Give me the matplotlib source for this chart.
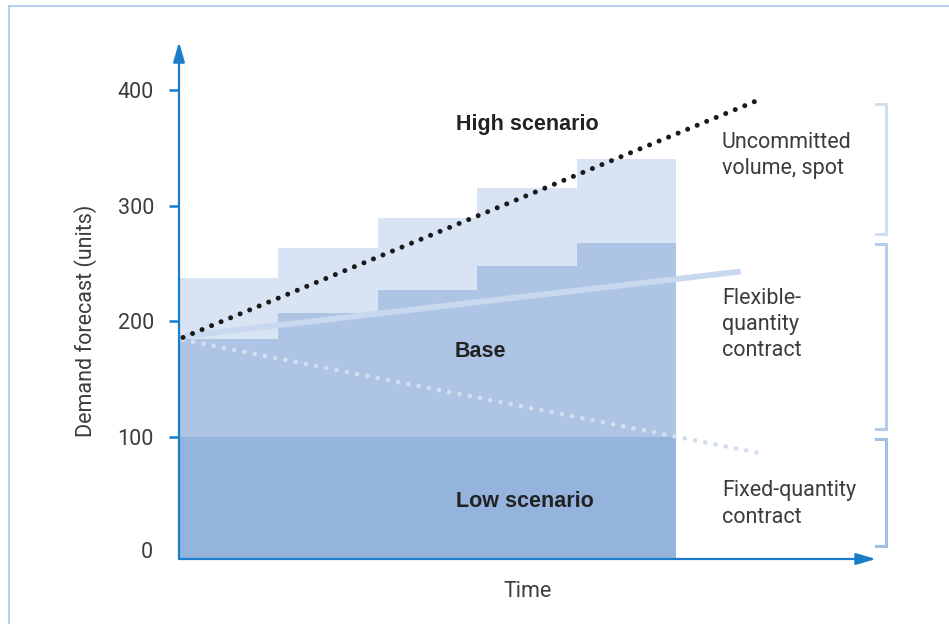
import matplotlib
matplotlib.use("Agg")
import matplotlib.pyplot as plt
import numpy as np

# Demand volumes per planning period (units)
periods = [0, 1, 2, 3, 4]
fixed_qty = [100, 100, 100, 100, 100]
flex_top = [185, 207, 227, 248, 268]
total_top = [237, 263, 289, 315, 340]

# Scenario trend lines: (start x, end x), (start y, end y)
high_x = [0.04, 5.79]
high_y = [186, 390]
base_x = [0.04, 5.65]
base_y = [187, 243]
low_x = [0.04, 5.84]
low_y = [184, 86]

y_ticks = [100, 200, 300, 400]

C_FIXED = "#94b4de"
C_FLEX = "#adc4e5"
C_SPOT = "#d8e3f3"
C_AXIS = "#1b7dc8"
C_TEXT = "#3c3c3c"

LIGHT = dict(family=["Roboto", "DejaVu Sans"], weight="normal")
BOLD = dict(family=["Liberation Sans", "DejaVu Sans"], weight="bold")

fig = plt.figure(figsize=(9.49, 6.24), dpi=100)
W, H = 949, 624
ax = fig.add_axes([179 / W, (H - 559) / H, (876 - 179) / W, (559 - 42) / H])
ax.set_xlim(0, 7.01)
ax.set_ylim(-5.6, 441.5)
y0 = ax.get_ylim()[0]

# Stacked contract volumes
ax.bar(periods, np.array(fixed_qty) - y0, bottom=y0, width=1, align="edge",
       color=C_FIXED, linewidth=0, zorder=1)
ax.bar(periods, np.array(flex_top) - np.array(fixed_qty), bottom=fixed_qty,
       width=1, align="edge", color=C_FLEX, linewidth=0, zorder=1)
ax.bar(periods, np.array(total_top) - np.array(flex_top), bottom=flex_top,
       width=1, align="edge", color=C_SPOT, linewidth=0, zorder=1)

# Scenario lines
ax.plot(base_x, base_y, color="#c8d8ef", lw=4.2, solid_capstyle="butt", zorder=2)
ax.plot(low_x, low_y, color="#d3dff1", lw=3.4, linestyle=(0, (0.01, 2.2)),
        dash_capstyle="round", zorder=3)
ax.plot(high_x, high_y, color="#1a1a1a", lw=3.6, linestyle=(0, (0.01, 2.05)),
        dash_capstyle="round", zorder=4)

# Axes with arrows
for s in ax.spines.values():
    s.set_visible(False)
ax.annotate("", xy=(0, 1), xytext=(0, 0), xycoords="axes fraction",
            arrowprops=dict(arrowstyle="-|>,head_length=1.2,head_width=0.35",
                            color=C_AXIS, lw=1.6, shrinkA=0, shrinkB=0),
            zorder=6)
ax.annotate("", xy=(1, 0), xytext=(0, 0), xycoords="axes fraction",
            arrowprops=dict(arrowstyle="-|>,head_length=1.2,head_width=0.35",
                            color=C_AXIS, lw=1.6, shrinkA=0, shrinkB=0),
            zorder=6)

ax.set_xticks([])
ax.set_yticks(y_ticks)
ax.set_yticklabels([str(v) for v in y_ticks], **LIGHT)
ax.tick_params(axis="y", length=7, width=1.8, color=C_AXIS, pad=11,
               labelsize=15.5, labelcolor=C_TEXT)
ax.text(-0.26, 0, "0", ha="right", va="center", fontsize=15.5, color=C_TEXT, **LIGHT)
ax.set_ylabel("Demand forecast (units)", fontsize=15.5, color=C_TEXT, **LIGHT)
ax.yaxis.set_label_coords(-(179 - 97) / (876 - 179), (559 - 321) / (559 - 42))
ax.set_xlabel("Time", fontsize=15.5, color=C_TEXT, labelpad=16, **LIGHT)

# In-chart labels
ax.text(3.5, 370, "High scenario", ha="center", va="center", fontsize=15.5,
        color="#222222", zorder=7, **BOLD)
ax.text(3.03, 174, "Base", ha="center", va="center", fontsize=15.5,
        color="#222222", zorder=7, **BOLD)
ax.text(3.48, 44.5, "Low scenario", ha="center", va="center", fontsize=15.5,
        color="#222222", zorder=7, **BOLD)

ax.text(5.46, 343, "Uncommitted\nvolume, spot", ha="left", va="center",
        fontsize=15.5, color=C_TEXT, linespacing=1.32, **LIGHT)
ax.text(5.46, 197, "Flexible-\nquantity\ncontract", ha="left", va="center",
        fontsize=15.5, color=C_TEXT, linespacing=1.32, **LIGHT)
ax.text(5.46, 42, "Fixed-quantity\ncontract", ha="left", va="center",
        fontsize=15.5, color=C_TEXT, linespacing=1.32, **LIGHT)

# Range brackets on the right
brackets = [((388, 275.5), "#d2def1"), ((267, 107), "#b6cbea"), ((98, 5.6), "#a4bfe4")]
bx0, bx1 = 7.01, 7.11
for (ytop, ybot), col in brackets:
    ax.plot([bx0, bx1, bx1, bx0], [ytop, ytop, ybot, ybot], color=col, lw=2.2,
            solid_joinstyle="miter", clip_on=False, zorder=5)

# Frame around the figure
fig.add_artist(plt.Line2D([9 / W, 9 / W], [0, (H - 6) / H], color="#a9c8ec", lw=1.2))
fig.add_artist(plt.Line2D([9 / W, 1], [(H - 6) / H, (H - 6) / H], color="#a9c8ec", lw=1.2))

fig.savefig("out.png", dpi=100)
